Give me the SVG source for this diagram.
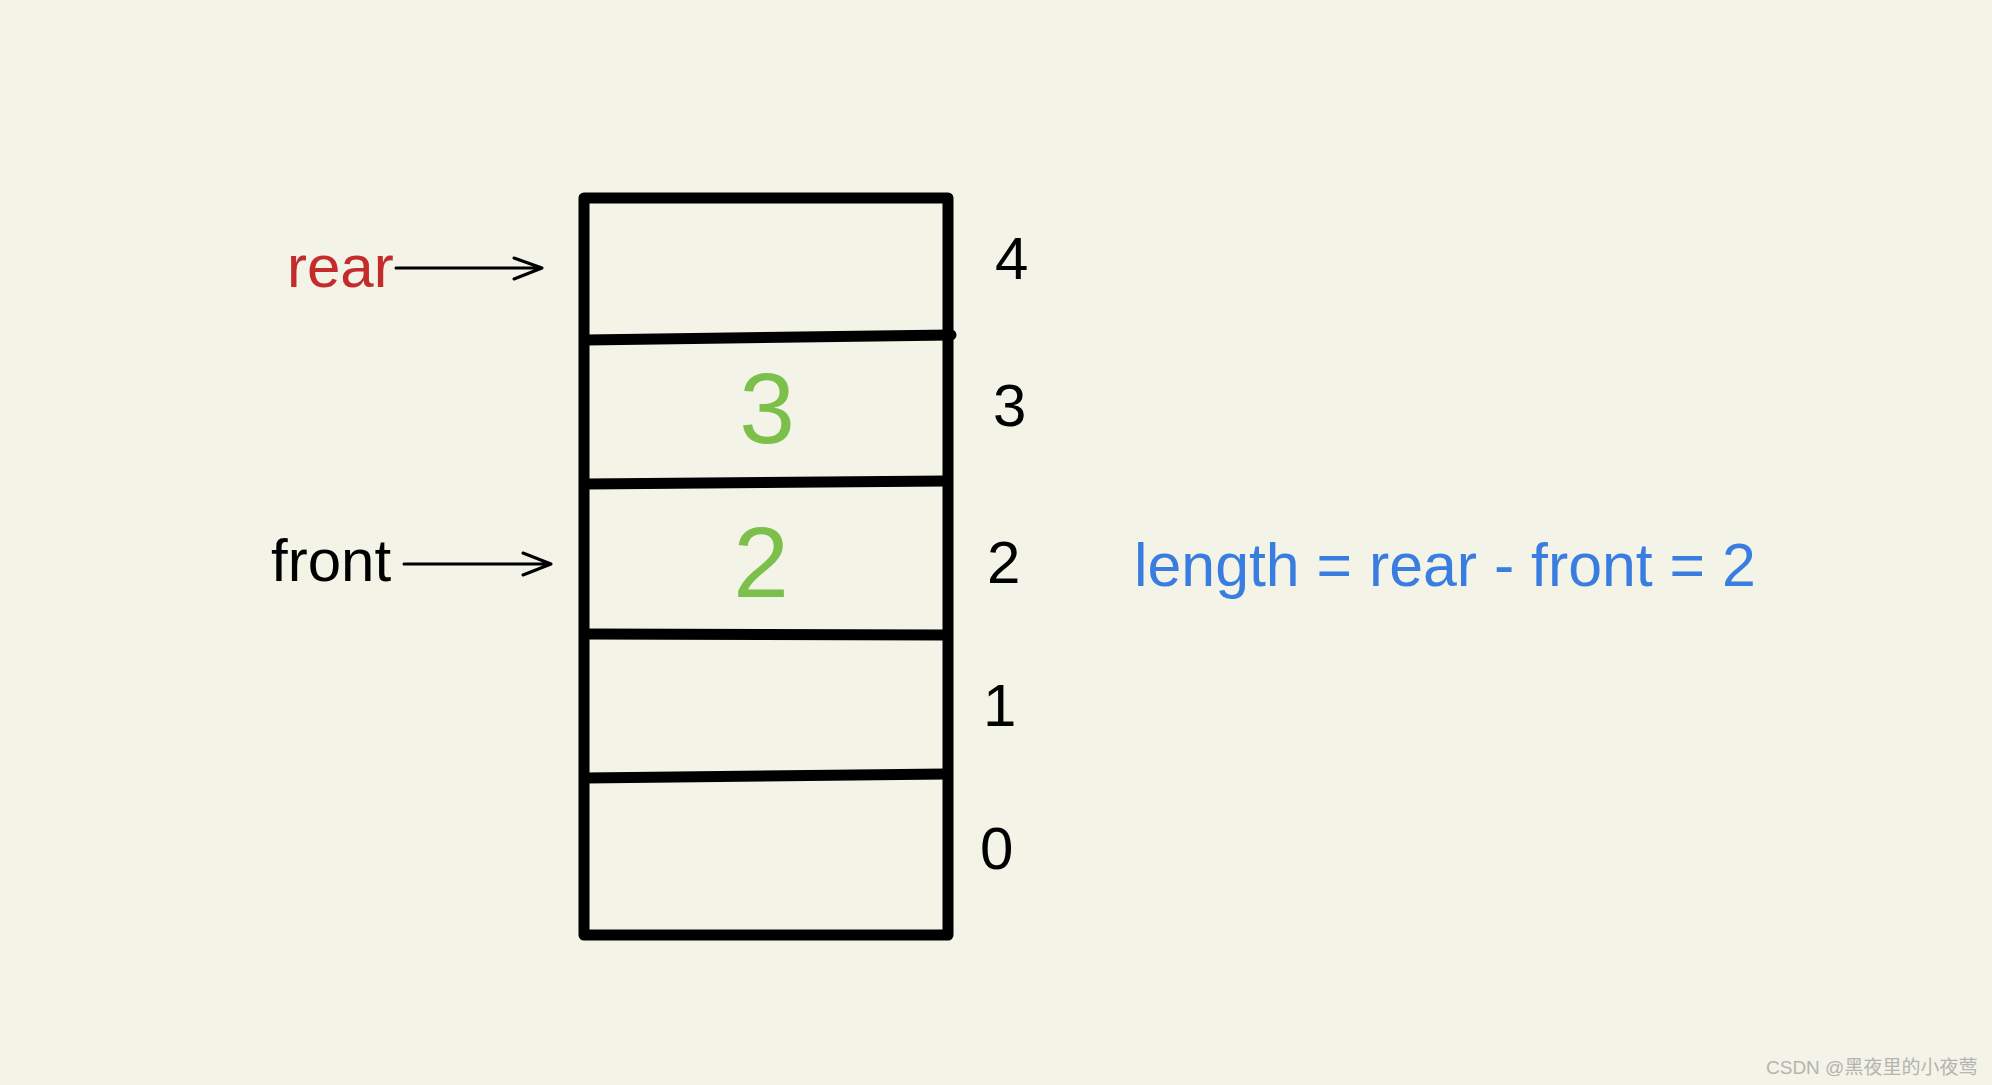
<svg xmlns="http://www.w3.org/2000/svg" width="1992" height="1085" viewBox="0 0 1992 1085">
<style>
.box{fill:none;stroke:#000;stroke-width:11;stroke-linejoin:round;stroke-linecap:round}
.div{stroke:#000;stroke-width:11;stroke-linecap:round}
.arr{fill:none;stroke:#000;stroke-width:3;stroke-linecap:round;stroke-linejoin:round}
.t{font-family:"Liberation Sans",Arial,sans-serif;font-size:60px}
.idx{fill:#000}
.val{fill:#7cc04b;font-size:100px;text-anchor:middle}
.formula{fill:#3a7de0;font-size:60.8px}
</style>
<rect width="1992" height="1085" fill="#f3f3e8"/>
<g id="queue">
<rect class="box" x="584" y="198" width="364" height="737"/>
<line class="div" x1="586" y1="340" x2="951" y2="335"/>
<line class="div" x1="586" y1="484" x2="946" y2="481"/>
<line class="div" x1="586" y1="634" x2="946" y2="635"/>
<line class="div" x1="586" y1="778" x2="946" y2="774"/>
</g>
<g id="values">
<text class="t val" x="767" y="443">3</text>
<text class="t val" x="761" y="597">2</text>
</g>
<g id="indices">
<text class="t idx" x="995" y="279">4</text>
<text class="t idx" x="993" y="426">3</text>
<text class="t idx" x="987" y="583">2</text>
<text class="t idx" x="983" y="726">1</text>
<text class="t idx" x="980" y="869">0</text>
</g>
<g id="rear">
<text class="t" x="287" y="287" fill="#c42b2b">rear</text>
</g>
<g id="front">
<text class="t" x="271" y="581" fill="#000">front</text>
</g>
<g id="connectors">
<path class="arr" d="M396 268 H542 M514 258 L542 268 L514 279"/>
<path class="arr" d="M404 564 H551 M523 553 L551 564 L523 575"/>
</g>
<g id="formula">
<text class="t formula" x="1134" y="586">length = rear - front = 2</text>
</g>
<text x="1766" y="1074" font-family="'Liberation Sans','Noto Sans CJK SC',sans-serif" font-size="19" fill="#b4b4b0">CSDN @黑夜里的小夜莺</text>
</svg>
